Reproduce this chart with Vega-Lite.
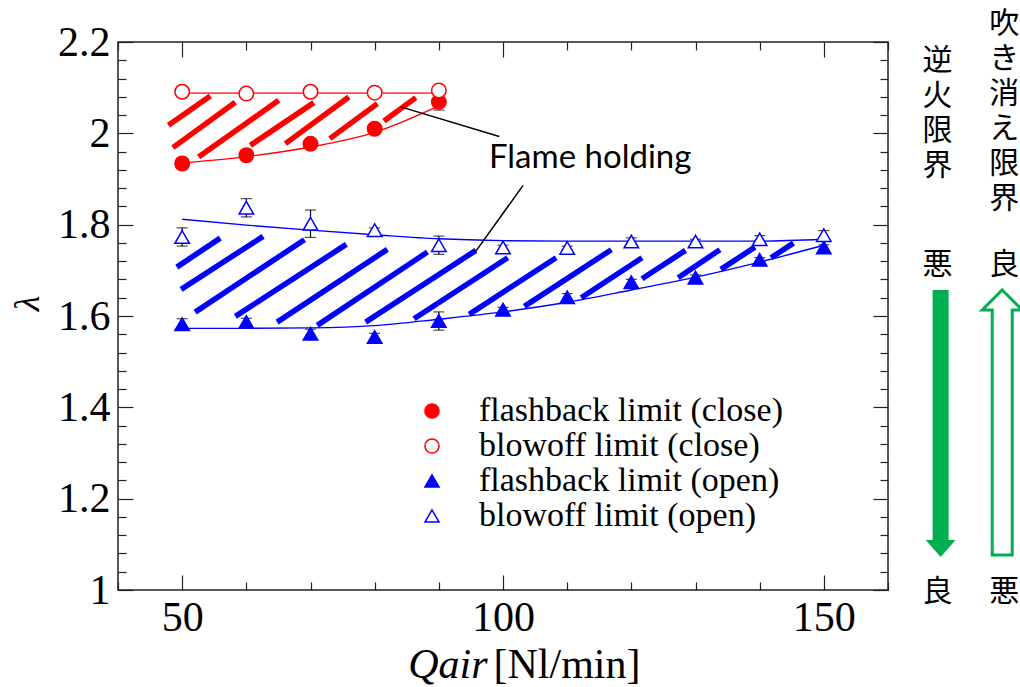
{
  "$schema": "https://vega.github.io/schema/vega-lite/v6.json",
  "width": 770,
  "height": 548,
  "autosize": {"type": "none"},
  "padding": {"left": 118, "top": 42, "right": 132, "bottom": 97},
  "background": "white",
  "datasets": {
    "limits": [
      {"series": "flashback limit (close)", "qair": 50, "lambda": 1.934, "err": 0.011},
      {"series": "flashback limit (close)", "qair": 60, "lambda": 1.952, "err": 0.008},
      {"series": "flashback limit (close)", "qair": 70, "lambda": 1.977, "err": 0.008},
      {"series": "flashback limit (close)", "qair": 80, "lambda": 2.010, "err": 0.008},
      {"series": "flashback limit (close)", "qair": 90, "lambda": 2.069, "err": 0.018},
      {"series": "blowoff limit (close)", "qair": 50, "lambda": 2.091, "err": 0.007},
      {"series": "blowoff limit (close)", "qair": 60, "lambda": 2.087, "err": 0.007},
      {"series": "blowoff limit (close)", "qair": 70, "lambda": 2.091, "err": 0.007},
      {"series": "blowoff limit (close)", "qair": 80, "lambda": 2.089, "err": 0.007},
      {"series": "blowoff limit (close)", "qair": 90, "lambda": 2.094, "err": 0.008},
      {"series": "flashback limit (open)", "qair": 50, "lambda": 1.582, "err": 0.012},
      {"series": "flashback limit (open)", "qair": 60, "lambda": 1.587, "err": 0.008},
      {"series": "flashback limit (open)", "qair": 70, "lambda": 1.561, "err": 0.010},
      {"series": "flashback limit (open)", "qair": 80, "lambda": 1.554, "err": 0.008},
      {"series": "flashback limit (open)", "qair": 90, "lambda": 1.589, "err": 0.020},
      {"series": "flashback limit (open)", "qair": 100, "lambda": 1.614, "err": 0.005},
      {"series": "flashback limit (open)", "qair": 110, "lambda": 1.641, "err": 0.008},
      {"series": "flashback limit (open)", "qair": 120, "lambda": 1.674, "err": 0.006},
      {"series": "flashback limit (open)", "qair": 130, "lambda": 1.684, "err": 0.006},
      {"series": "flashback limit (open)", "qair": 140, "lambda": 1.723, "err": 0.005},
      {"series": "flashback limit (open)", "qair": 150, "lambda": 1.750, "err": 0.006},
      {"series": "blowoff limit (open)", "qair": 50, "lambda": 1.773, "err": 0.020},
      {"series": "blowoff limit (open)", "qair": 60, "lambda": 1.837, "err": 0.020},
      {"series": "blowoff limit (open)", "qair": 70, "lambda": 1.802, "err": 0.030},
      {"series": "blowoff limit (open)", "qair": 80, "lambda": 1.788, "err": 0.005},
      {"series": "blowoff limit (open)", "qair": 90, "lambda": 1.755, "err": 0.020},
      {"series": "blowoff limit (open)", "qair": 100, "lambda": 1.750, "err": 0.005},
      {"series": "blowoff limit (open)", "qair": 110, "lambda": 1.749, "err": 0.004},
      {"series": "blowoff limit (open)", "qair": 120, "lambda": 1.763, "err": 0.008},
      {"series": "blowoff limit (open)", "qair": 130, "lambda": 1.763, "err": 0.005},
      {"series": "blowoff limit (open)", "qair": 140, "lambda": 1.768, "err": 0.008},
      {"series": "blowoff limit (open)", "qair": 150, "lambda": 1.777, "err": 0.010}
    ],
    "fits": [
      {"config": "close", "limit": "blowoff", "qair": 50, "lambda": 2.088},
      {"config": "close", "limit": "blowoff", "qair": 90, "lambda": 2.088},
      {"config": "close", "limit": "flashback", "qair": 50, "lambda": 1.935},
      {"config": "close", "limit": "flashback", "qair": 60, "lambda": 1.949},
      {"config": "close", "limit": "flashback", "qair": 70, "lambda": 1.970},
      {"config": "close", "limit": "flashback", "qair": 80, "lambda": 2.002},
      {"config": "close", "limit": "flashback", "qair": 90, "lambda": 2.060},
      {"config": "open", "limit": "blowoff", "qair": 50, "lambda": 1.812},
      {"config": "open", "limit": "blowoff", "qair": 60, "lambda": 1.799},
      {"config": "open", "limit": "blowoff", "qair": 70, "lambda": 1.788},
      {"config": "open", "limit": "blowoff", "qair": 80, "lambda": 1.778},
      {"config": "open", "limit": "blowoff", "qair": 90, "lambda": 1.769},
      {"config": "open", "limit": "blowoff", "qair": 100, "lambda": 1.765},
      {"config": "open", "limit": "blowoff", "qair": 110, "lambda": 1.764},
      {"config": "open", "limit": "blowoff", "qair": 120, "lambda": 1.764},
      {"config": "open", "limit": "blowoff", "qair": 130, "lambda": 1.764},
      {"config": "open", "limit": "blowoff", "qair": 140, "lambda": 1.764},
      {"config": "open", "limit": "blowoff", "qair": 150, "lambda": 1.768},
      {"config": "open", "limit": "flashback", "qair": 49, "lambda": 1.573},
      {"config": "open", "limit": "flashback", "qair": 60, "lambda": 1.573},
      {"config": "open", "limit": "flashback", "qair": 70, "lambda": 1.574},
      {"config": "open", "limit": "flashback", "qair": 80, "lambda": 1.579},
      {"config": "open", "limit": "flashback", "qair": 90, "lambda": 1.593},
      {"config": "open", "limit": "flashback", "qair": 100, "lambda": 1.609},
      {"config": "open", "limit": "flashback", "qair": 110, "lambda": 1.630},
      {"config": "open", "limit": "flashback", "qair": 120, "lambda": 1.657},
      {"config": "open", "limit": "flashback", "qair": 130, "lambda": 1.685},
      {"config": "open", "limit": "flashback", "qair": 140, "lambda": 1.718},
      {"config": "open", "limit": "flashback", "qair": 150, "lambda": 1.755}
    ],
    "hatch": [
      {"config": "close", "qair": 47.86, "lambda": 2.0175, "qair2": 54.38, "lambda2": 2.0817},
      {"config": "close", "qair": 48.55, "lambda": 1.9687, "qair2": 58.28, "lambda2": 2.0679},
      {"config": "close", "qair": 52.55, "lambda": 1.9481, "qair2": 65.05, "lambda2": 2.0723},
      {"config": "close", "qair": 60.63, "lambda": 1.9737, "qair2": 70.52, "lambda2": 2.0672},
      {"config": "close", "qair": 66.09, "lambda": 1.9774, "qair2": 75.98, "lambda2": 2.0795},
      {"config": "close", "qair": 73.02, "lambda": 1.9884, "qair2": 80.42, "lambda2": 2.0650},
      {"config": "close", "qair": 81.45, "lambda": 2.0270, "qair2": 86.41, "lambda2": 2.0782},
      {"config": "open", "qair": 49.17, "lambda": 1.7071, "qair2": 55.94, "lambda2": 1.7706},
      {"config": "open", "qair": 49.84, "lambda": 1.6583, "qair2": 62.61, "lambda2": 1.7744},
      {"config": "open", "qair": 52.03, "lambda": 1.6085, "qair2": 69.06, "lambda2": 1.7671},
      {"config": "open", "qair": 58.28, "lambda": 1.5991, "qair2": 75.58, "lambda2": 1.7568},
      {"config": "open", "qair": 64.80, "lambda": 1.5866, "qair2": 81.98, "lambda2": 1.7459},
      {"config": "open", "qair": 71.05, "lambda": 1.5794, "qair2": 88.23, "lambda2": 1.7400},
      {"config": "open", "qair": 78.59, "lambda": 1.5866, "qair2": 95.78, "lambda2": 1.7437},
      {"config": "open", "qair": 86.14, "lambda": 1.5941, "qair2": 100.73, "lambda2": 1.7277},
      {"config": "open", "qair": 94.73, "lambda": 1.6035, "qair2": 108.28, "lambda2": 1.7277},
      {"config": "open", "qair": 103.33, "lambda": 1.6210, "qair2": 116.88, "lambda2": 1.7452},
      {"config": "open", "qair": 112.19, "lambda": 1.6401, "qair2": 121.67, "lambda2": 1.7277},
      {"config": "open", "qair": 121.67, "lambda": 1.6817, "qair2": 128.44, "lambda2": 1.7437},
      {"config": "open", "qair": 127.30, "lambda": 1.6839, "qair2": 133.80, "lambda2": 1.7452},
      {"config": "open", "qair": 133.95, "lambda": 1.7021, "qair2": 139.27, "lambda2": 1.7509},
      {"config": "open", "qair": 141.77, "lambda": 1.7277, "qair2": 145.27, "lambda2": 1.7597}
    ],
    "leaders": [
      {"qair": 84.06, "lambda": 2.058, "qair2": 99.42, "lambda2": 1.993},
      {"qair": 95.78, "lambda": 1.742, "qair2": 103.13, "lambda2": 1.886}
    ],
    "notes": [
      {"qair": 97.81, "lambda": 1.923, "label": "Flame holding"}
    ],
    "sidenotes": [
      {"qair": 167.7, "lambda": 2.158, "label": "逆\n火\n限\n界"},
      {"qair": 178.1, "lambda": 2.239, "label": "吹\nき\n消\nえ\n限\n界"},
      {"qair": 167.7, "lambda": 1.712, "label": "悪"},
      {"qair": 178.1, "lambda": 1.712, "label": "良"},
      {"qair": 167.7, "lambda": 0.996, "label": "良"},
      {"qair": 178.1, "lambda": 0.996, "label": "悪"}
    ],
    "arrows": [
      {"limit": "flashback", "qair": 168.2, "lambda": 1.3646},
      {"limit": "blowoff", "qair": 177.8, "lambda": 1.3668}
    ]
  },
  "layer": [
    {
      "data": {"name": "hatch"},
      "mark": {"type": "rule", "strokeWidth": 5.5, "strokeCap": "butt"},
      "encoding": {
        "x": {"field": "qair", "type": "quantitative", "scale": {"domain": [40, 160]},
          "axis": {"orient": "bottom", "values": [50, 100, 150], "ticks": false, "labelPadding": 7,
            "title": "Qair", "titleFontStyle": "italic", "titleFontSize": 42, "titleX": 369, "titleY": 87,
            "titleAlign": "right", "titleBaseline": "alphabetic"}},
        "x2": {"field": "qair2"},
        "y": {"field": "lambda", "type": "quantitative", "scale": {"domain": [1, 2.2]},
          "axis": {"orient": "left", "values": [1, 1.2, 1.4, 1.6, 1.8, 2, 2.2], "ticks": false, "labelPadding": 8,
            "format": ".1~f", "title": "λ", "titleFontStyle": "italic", "titleFontSize": 36, "titleX": -91, "titleY": 261,
            "titleAngle": 270, "titleAlign": "center", "titleBaseline": "middle"}},
        "y2": {"field": "lambda2"},
        "color": {"field": "config", "type": "nominal", "scale": {"domain": ["close", "open"], "range": ["#ff0000", "#0000ff"]}, "legend": null}
      }
    },
    {
      "data": {"name": "fits"},
      "mark": {"type": "line", "strokeWidth": 1.4, "interpolate": "monotone"},
      "encoding": {
        "x": {"field": "qair", "type": "quantitative", "scale": {"domain": [40, 160]},
          "axis": {"orient": "bottom", "values": [50, 100, 150], "labels": false, "tickSize": -15, "title": null}},
        "y": {"field": "lambda", "type": "quantitative", "scale": {"domain": [1, 2.2]},
          "axis": {"orient": "left", "values": [1, 1.2, 1.4, 1.6, 1.8, 2, 2.2], "labels": false, "tickSize": -15, "title": null}},
        "color": {"field": "config", "type": "nominal", "scale": {"domain": ["close", "open"], "range": ["#ff0000", "#0000ff"]}, "legend": null},
        "detail": {"field": "limit"}
      }
    },
    {
      "data": {"name": "limits"},
      "mark": {"type": "errorbar", "ticks": {"size": 11, "thickness": 1.2}, "color": "black", "thickness": 1.2},
      "encoding": {
        "x": {"field": "qair", "type": "quantitative", "scale": {"domain": [40, 160]}, "axis": null},
        "y": {"field": "lambda", "type": "quantitative", "scale": {"domain": [1, 2.2]}, "axis": null},
        "yError": {"field": "err"}
      }
    },
    {
      "data": {"name": "limits"},
      "mark": {"type": "point", "size": 210, "strokeWidth": 1.5, "opacity": 1},
      "encoding": {
        "x": {"field": "qair", "type": "quantitative", "scale": {"domain": [40, 160]},
          "axis": {"orient": "top", "values": [50, 100, 150], "labels": false, "tickSize": -15, "title": null}},
        "y": {"field": "lambda", "type": "quantitative", "scale": {"domain": [1, 2.2]},
          "axis": {"orient": "right", "values": [1, 1.2, 1.4, 1.6, 1.8, 2, 2.2], "labels": false, "tickSize": -15, "title": null}},
        "fill": {"field": "series", "type": "nominal",
          "scale": {"domain": ["flashback limit (close)", "blowoff limit (close)", "flashback limit (open)", "blowoff limit (open)"],
            "range": ["#ff0000", "#ffffff", "#0000ff", "#ffffff"]},
          "legend": {"orient": "none", "legendX": 297, "legendY": 352, "title": null, "padding": 0,
            "labelFont": "Liberation Serif", "labelFontSize": 34, "labelColor": "black", "labelLimit": 600,
            "symbolSize": 200, "symbolStrokeWidth": 1.5, "rowPadding": 1, "labelOffset": 30}},
        "stroke": {"field": "series", "type": "nominal",
          "scale": {"domain": ["flashback limit (close)", "blowoff limit (close)", "flashback limit (open)", "blowoff limit (open)"],
            "range": ["#ff0000", "#ff0000", "#0000ff", "#0000ff"]},
          "legend": {"orient": "none", "legendX": 297, "legendY": 352, "title": null, "padding": 0,
            "labelFont": "Liberation Serif", "labelFontSize": 34, "labelColor": "black", "labelLimit": 600,
            "symbolSize": 200, "symbolStrokeWidth": 1.5, "rowPadding": 1, "labelOffset": 30}},
        "shape": {"field": "series", "type": "nominal",
          "scale": {"domain": ["flashback limit (close)", "blowoff limit (close)", "flashback limit (open)", "blowoff limit (open)"],
            "range": ["circle", "circle", "triangle-up", "triangle-up"]},
          "legend": {"orient": "none", "legendX": 297, "legendY": 352, "title": null, "padding": 0,
            "labelFont": "Liberation Serif", "labelFontSize": 34, "labelColor": "black", "labelLimit": 600,
            "symbolSize": 200, "symbolStrokeWidth": 1.5, "rowPadding": 1, "labelOffset": 30}}
      }
    },
    {
      "data": {"name": "leaders"},
      "mark": {"type": "rule", "color": "black", "strokeWidth": 1.5},
      "encoding": {
        "x": {"field": "qair", "type": "quantitative", "scale": {"domain": [40, 160]},
          "axis": {"orient": "top", "values": [40, 60, 70, 80, 90, 110, 120, 130, 140, 160], "labels": false, "tickSize": -8, "title": null}},
        "x2": {"field": "qair2"},
        "y": {"field": "lambda", "type": "quantitative", "scale": {"domain": [1, 2.2]},
          "axis": {"orient": "right", "values": [1.04, 1.08, 1.12, 1.16, 1.24, 1.28, 1.32, 1.36, 1.44, 1.48, 1.52, 1.56, 1.64, 1.68, 1.72, 1.76, 1.84, 1.88, 1.92, 1.96, 2.04, 2.08, 2.12, 2.16], "labels": false, "tickSize": -8, "title": null}},
        "y2": {"field": "lambda2"}
      }
    },
    {
      "data": {"name": "notes"},
      "mark": {"type": "text", "font": "Lato", "fontSize": 33, "align": "left", "baseline": "alphabetic", "color": "black"},
      "encoding": {
        "x": {"field": "qair", "type": "quantitative", "scale": {"domain": [40, 160]},
          "axis": {"orient": "bottom", "values": [40, 60, 70, 80, 90, 110, 120, 130, 140, 160], "labels": false, "tickSize": -8, "title": null}},
        "y": {"field": "lambda", "type": "quantitative", "scale": {"domain": [1, 2.2]},
          "axis": {"orient": "left", "values": [1.04, 1.08, 1.12, 1.16, 1.24, 1.28, 1.32, 1.36, 1.44, 1.48, 1.52, 1.56, 1.64, 1.68, 1.72, 1.76, 1.84, 1.88, 1.92, 1.96, 2.04, 2.08, 2.12, 2.16], "labels": false, "tickSize": -8, "title": null}},
        "text": {"field": "label"}
      }
    },
    {
      "data": {"name": "sidenotes"},
      "mark": {"type": "text", "font": "Noto Sans CJK JP", "fontSize": 30, "lineHeight": 35, "lineBreak": "\n", "align": "center", "baseline": "middle", "color": "black"},
      "encoding": {
        "x": {"field": "qair", "type": "quantitative", "scale": {"domain": [40, 160]},
          "axis": {"orient": "bottom", "labels": false, "ticks": false, "title": "[Nl/min]", "titleFontSize": 42, "titleFontStyle": "normal",
            "titleX": 375, "titleY": 87, "titleAlign": "left", "titleBaseline": "alphabetic"}},
        "y": {"field": "lambda", "type": "quantitative", "scale": {"domain": [1, 2.2]}, "axis": null},
        "text": {"field": "label"}
      }
    },
    {
      "data": {"name": "arrows"},
      "transform": [{"filter": "datum.limit === 'flashback'"}],
      "mark": {"type": "point", "shape": "M-0.06,-1 L0.06,-1 L0.06,0.873 L0.112,0.873 L0,1 L-0.112,0.873 L-0.06,0.873 Z",
        "size": 71289, "filled": true, "fill": "#00b050", "stroke": null, "opacity": 1},
      "encoding": {
        "x": {"field": "qair", "type": "quantitative", "scale": {"domain": [40, 160]}, "axis": null},
        "y": {"field": "lambda", "type": "quantitative", "scale": {"domain": [1, 2.2]}, "axis": null}
      }
    },
    {
      "data": {"name": "arrows"},
      "transform": [{"filter": "datum.limit === 'blowoff'"}],
      "mark": {"type": "point", "shape": "M0,-1 L0.151,-0.849 L0.0755,-0.849 L0.0755,1 L-0.0755,1 L-0.0755,-0.849 L-0.151,-0.849 Z",
        "size": 70225, "fill": "#ffffff", "stroke": "#00b050", "strokeWidth": 3, "opacity": 1},
      "encoding": {
        "x": {"field": "qair", "type": "quantitative", "scale": {"domain": [40, 160]}, "axis": null},
        "y": {"field": "lambda", "type": "quantitative", "scale": {"domain": [1, 2.2]}, "axis": null}
      }
    }
  ],
  "resolve": {"axis": {"x": "independent", "y": "independent"}},
  "config": {
    "view": {"stroke": "#222222", "strokeWidth": 1.5},
    "axis": {
      "domain": false, "grid": false, "tickColor": "#222222", "tickWidth": 1.2,
      "labelColor": "black", "labelFont": "Liberation Serif", "labelFontSize": 42,
      "labelFlush": false, "labelOverlap": false,
      "titleColor": "black", "titleFont": "Liberation Serif", "titleFontWeight": "normal"
    }
  }
}
